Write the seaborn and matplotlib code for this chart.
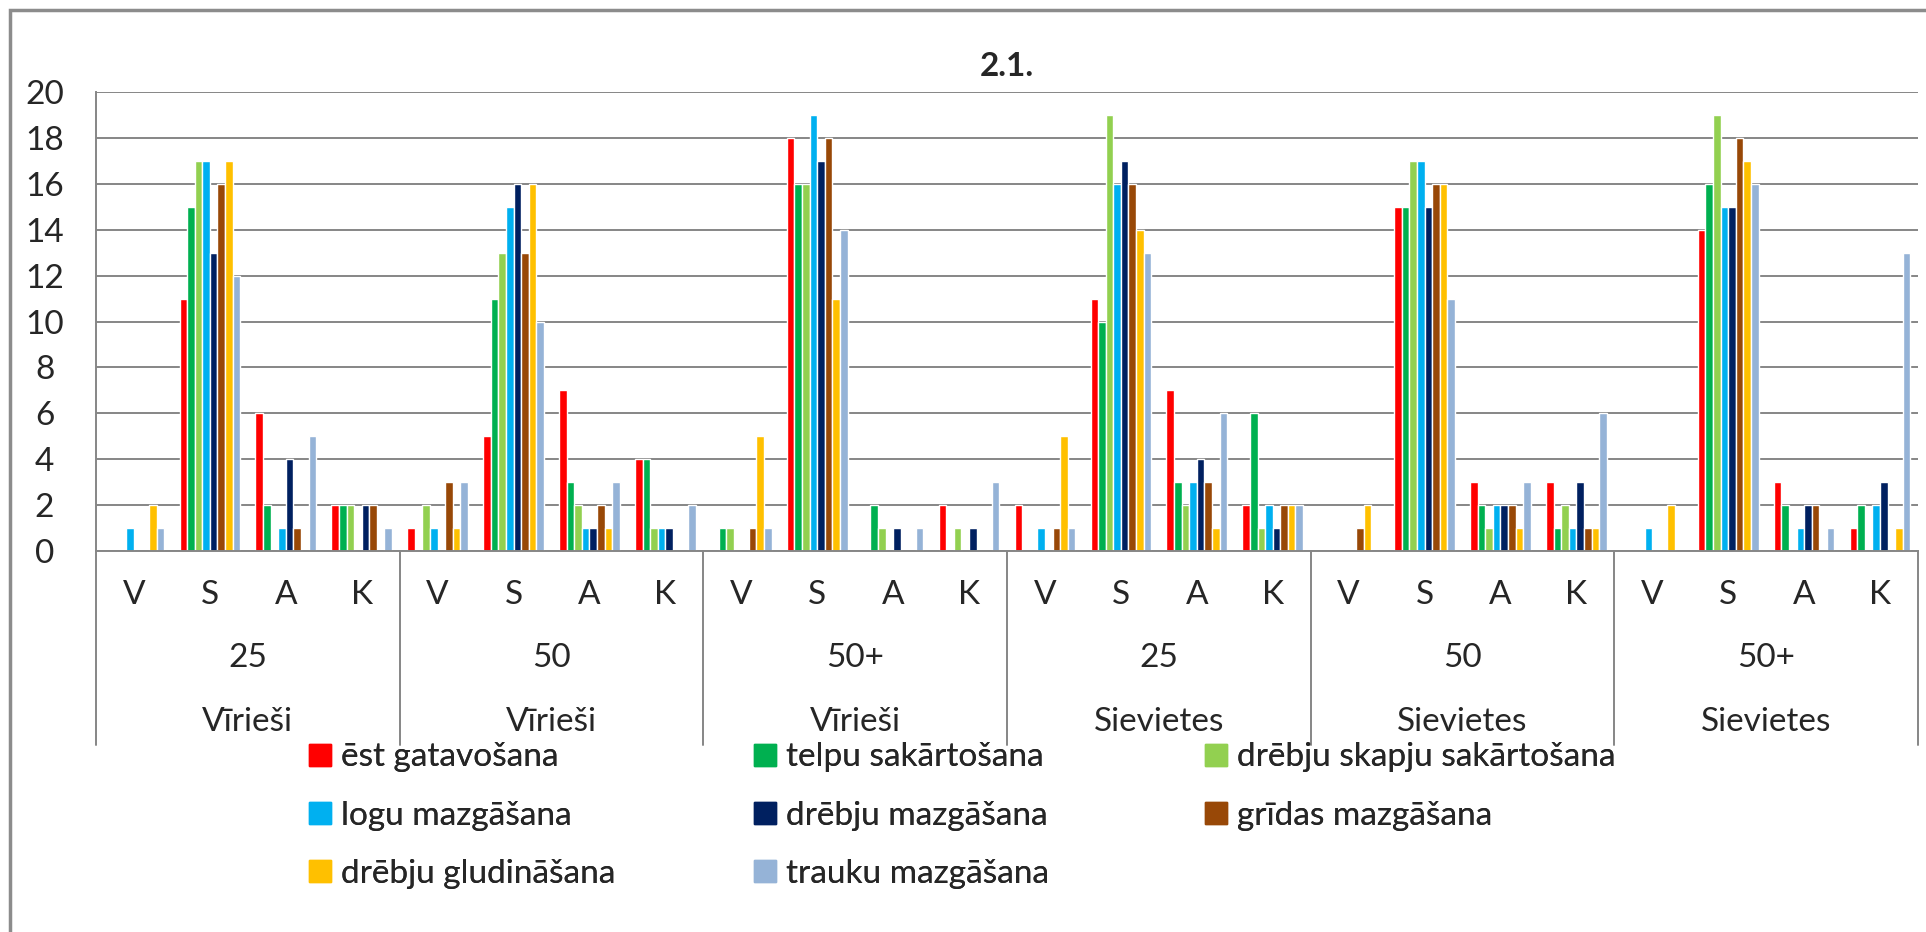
import pandas as pd
import seaborn as sns
import matplotlib.pyplot as plt
from matplotlib.patches import Patch, Rectangle
from matplotlib.lines import Line2D

# categories
genders = ["Vīrieši", "Vīrieši", "Vīrieši", "Sievietes", "Sievietes", "Sievietes"]
ages = ["25", "50", "50+", "25", "50", "50+"]
answers = ["V", "S", "A", "K"]

series = ["ēst gatavošana", "telpu sakārtošana", "drēbju skapju sakārtošana",
          "logu mazgāšana", "drēbju mazgāšana", "grīdas mazgāšana",
          "drēbju gludināšana", "trauku mazgāšana"]
colors = ["#FF0000", "#00B050", "#92D050", "#00B0F0",
          "#002060", "#984807", "#FFC000", "#95B3D7"]

# values per series, 24 categories (6 groups x V,S,A,K)
est_gatavosana = [0, 11, 6, 2, 1, 5, 7, 4, 0, 18, 0, 2, 2, 11, 7, 2, 0, 15, 3, 3, 0, 14, 3, 1]
telpu_sakartosana = [0, 15, 2, 2, 0, 11, 3, 4, 1, 16, 2, 0, 0, 10, 3, 6, 0, 15, 2, 1, 0, 16, 2, 2]
skapju_sakartosana = [0, 17, 0, 2, 2, 13, 2, 1, 1, 16, 1, 1, 0, 19, 2, 1, 0, 17, 1, 2, 0, 19, 0, 0]
logu_mazgasana = [1, 17, 1, 0, 1, 15, 1, 1, 0, 19, 0, 0, 1, 16, 3, 2, 0, 17, 2, 1, 1, 15, 1, 2]
drebju_mazgasana = [0, 13, 4, 2, 0, 16, 1, 1, 0, 17, 1, 1, 0, 17, 4, 1, 0, 15, 2, 3, 0, 15, 2, 3]
gridas_mazgasana = [0, 16, 1, 2, 3, 13, 2, 0, 1, 18, 0, 0, 1, 16, 3, 2, 1, 16, 2, 1, 0, 18, 2, 0]
drebju_gludinasana = [2, 17, 0, 0, 1, 16, 1, 0, 5, 11, 0, 0, 5, 14, 1, 2, 2, 16, 1, 1, 2, 17, 0, 1]
trauku_mazgasana = [1, 12, 5, 1, 3, 10, 3, 2, 1, 14, 1, 3, 1, 13, 6, 2, 0, 11, 3, 6, 0, 16, 1, 13]

values = [est_gatavosana, telpu_sakartosana, skapju_sakartosana, logu_mazgasana,
          drebju_mazgasana, gridas_mazgasana, drebju_gludinasana, trauku_mazgasana]

cats = [f"{g}|{a}|{q}" for g, a in zip(genders, ages) for q in answers]
rows = []
for name, vals in zip(series, values):
    for c, v in zip(cats, vals):
        rows.append({"cat": c, "series": name, "value": v})
df = pd.DataFrame(rows)

sns.set_style("white")
plt.rcParams["font.family"] = ["Lato", "DejaVu Sans"]
FS = 24
W, H = 1926, 932

fig = plt.figure(figsize=(W / 100, H / 100), dpi=100)
x0, x1, y0, y1 = 96, 1918, 92, 551
ax = fig.add_axes([x0 / W, 1 - y1 / H, (x1 - x0) / W, (y1 - y0) / H])

sns.barplot(data=df, x="cat", y="value", hue="series", order=cats, hue_order=series,
            palette=colors, width=0.8, saturation=1, ax=ax, legend=False)

grid_c = "#868686"
ax.set_ylim(0, 20)
ax.set_xlim(-0.5, len(cats) - 0.5)
ax.set_yticks(range(0, 21, 2))
ax.yaxis.grid(True, color=grid_c, lw=1.4)
ax.set_axisbelow(True)
ax.set_xlabel("")
ax.set_ylabel("")
for s in ["top", "right"]:
    ax.spines[s].set_visible(False)
for s in ["left", "bottom"]:
    ax.spines[s].set_color(grid_c)
    ax.spines[s].set_linewidth(1.4)

ax.set_xticks(range(len(cats)))
ax.set_xticklabels(answers * len(genders), fontsize=FS)
ax.tick_params(axis="x", length=0, pad=21)
ax.tick_params(axis="y", length=0, pad=37, labelsize=FS)
for lbl in ax.get_yticklabels():
    lbl.set_horizontalalignment("center")

# group labels and separators below the axis
tr = ax.get_xaxis_transform()
hpx = y1 - y0
for i in range(len(genders)):
    cx = i * 4 + 1.5
    ax.text(cx, -(658 - y1) / hpx, ages[i], transform=tr, ha="center", va="center", fontsize=FS)
    ax.text(cx, -(722 - y1) / hpx, genders[i], transform=tr, ha="center", va="center", fontsize=FS)
for i in range(len(genders) + 1):
    xs = i * 4 - 0.5
    ax.add_line(Line2D([xs, xs], [0, -(745 - y1) / hpx], transform=tr, color=grid_c,
                       lw=1.4, clip_on=False))

fig.text((x0 + x1) / 2 / W, 1 - 66 / H, "2.1.", ha="center", va="center",
         fontsize=FS, fontweight="bold")

# legend: three columns placed like the reference, rows read left to right
handles = [Patch(facecolor=c, edgecolor=c) for c in colors]
col_x = [296, 741, 1192]
for k, cx in enumerate(col_x):
    idx = [k, k + 3, k + 6] if k < 2 else [k, k + 3]
    leg = fig.legend([handles[i] for i in idx], [series[i] for i in idx], ncol=1,
                     loc="upper left", bbox_to_anchor=(cx / W, 1 - 729 / H), frameon=False,
                     fontsize=FS, handlelength=0.65, handleheight=0.65, handletextpad=0.3,
                     labelspacing=0.85, borderaxespad=0)
    fig.add_artist(leg)

# outer chart border
fig.patches.append(Rectangle((10 / W, -0.1), 1.1, 1 - 10 / H + 0.1, transform=fig.transFigure,
                             fill=False, edgecolor="#8C8C8C", lw=2.5))

fig.savefig("out.png", dpi=100)
